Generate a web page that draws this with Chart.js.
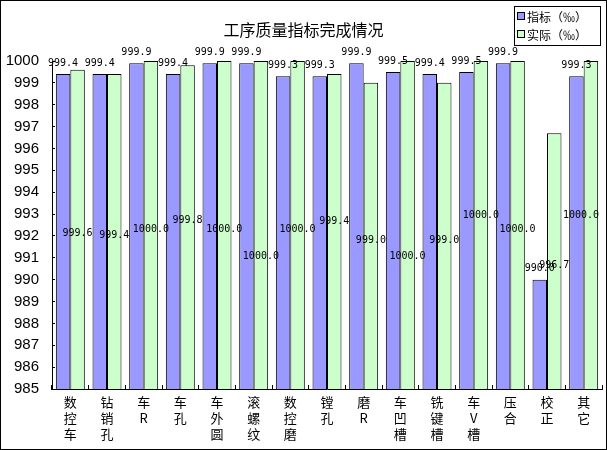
<!DOCTYPE html>
<html>
<head>
<meta charset="utf-8">
<script src="https://cdn.jsdelivr.net/npm/chart.js@4/dist/chart.umd.min.js"></script>
<style>
  html, body { margin: 0; padding: 0; background: #fff; }
  canvas { display: block; }
</style>
</head>
<body>
<canvas id="qualityChart" width="607" height="450"></canvas>
<script>
const chartTitle = "工序质量指标完成情况";
const categories = ["数控车", "钻销孔", "车R", "车孔", "车外圆", "滚螺纹", "数控磨", "镗孔", "磨R", "车凹槽", "铣键槽", "车V槽", "压合", "校正", "其它"];
const seriesNames = ["指标（‰）", "实际（‰）"];
const targetValues = [999.4, 999.4, 999.9, 999.4, 999.9, 999.9, 999.3, 999.3, 999.9, 999.5, 999.4, 999.5, 999.9, 990.0, 999.3];
const actualValues = [999.6, 999.4, 1000.0, 999.8, 1000.0, 1000.0, 1000.0, 999.4, 999.0, 1000.0, 999.0, 1000.0, 1000.0, 996.7, 1000.0];
const yMin = 985;
const yMax = 1000;

// label nudges (px) for the "actual" labels, which sit roughly mid-bar
const actualLabelShift = [0, 0, 0, -11, 0, 27, 0, -14, 0, 27, 0, -14, 0, 0, -14];

const cjk = '"Noto Sans CJK SC", sans-serif';

// white page with a thin black frame
const framePlugin = {
  id: "frame",
  beforeDraw(chart) {
    const ctx = chart.ctx;
    ctx.save();
    ctx.fillStyle = "#fff";
    ctx.fillRect(0, 0, chart.width, chart.height);
    ctx.strokeStyle = "#000";
    ctx.lineWidth = 1;
    ctx.strokeRect(0.5, 0.5, chart.width - 1, chart.height - 1);
    ctx.restore();
  }
};

// title, boxed legend and value labels
const decorPlugin = {
  id: "decor",
  afterDatasetsDraw(chart) {
    const ctx = chart.ctx;
    const yScale = chart.scales.y;
    const right = chart.chartArea.right;
    ctx.save();

    ctx.fillStyle = "#000";
    ctx.font = "16px " + cjk;
    ctx.textAlign = "center";
    ctx.textBaseline = "middle";
    ctx.fillText(chartTitle, chart.width / 2, 30);

    // legend
    ctx.strokeStyle = "#000";
    ctx.lineWidth = 1;
    ctx.strokeRect(514.5, 6.5, 86, 39);
    ctx.font = "12px " + cjk;
    ctx.textAlign = "left";
    chart.data.datasets.forEach((ds, i) => {
      const y = 16 + i * 18;
      ctx.fillStyle = ds.backgroundColor;
      ctx.fillRect(517.5, y - 3.5, 7, 7);
      ctx.strokeRect(517.5, y - 3.5, 7, 7);
      ctx.fillStyle = "#000";
      ctx.fillText(ds.label, 527, y + 1);
    });

    // value labels
    ctx.font = "10px 'DejaVu Sans Mono', monospace";
    ctx.textAlign = "center";
    ctx.textBaseline = "middle";
    ctx.fillStyle = "#000";
    const basePx = yScale.getPixelForValue(yMin);
    const put = (txt, x, y) => {
      const w = ctx.measureText(txt).width;
      ctx.fillText(txt, Math.min(x, right - w / 2 - 3), y);
    };
    chart.getDatasetMeta(0).data.forEach((bar, i) => {
      const top = yScale.getPixelForValue(targetValues[i]);
      put(targetValues[i].toFixed(1), bar.x, top - 11);
    });
    chart.getDatasetMeta(1).data.forEach((bar, i) => {
      const top = yScale.getPixelForValue(actualValues[i]);
      const mid = (top + basePx) / 2 + 4 + actualLabelShift[i];
      put(actualValues[i].toFixed(1), bar.x, mid);
    });

    ctx.restore();
  }
};

new Chart(document.getElementById("qualityChart"), {
  type: "bar",
  data: {
    labels: categories.map(c => c.split("")),
    datasets: [
      {
        label: seriesNames[0],
        data: targetValues,
        backgroundColor: "#9999FF",
        borderColor: "#000",
        borderWidth: 1,
        borderSkipped: false
      },
      {
        label: seriesNames[1],
        data: actualValues,
        backgroundColor: "#CCFFCC",
        borderColor: "#000",
        borderWidth: 1,
        borderSkipped: false
      }
    ]
  },
  options: {
    responsive: false,
    devicePixelRatio: 1,
    animation: false,
    layout: { padding: { top: 61, right: 5, left: 0, bottom: 0 } },
    datasets: { bar: { categoryPercentage: 0.79, barPercentage: 1.0 } },
    plugins: {
      legend: { display: false },
      title: { display: false },
      tooltip: { enabled: false }
    },
    scales: {
      x: {
        afterFit(scale) { scale.height = 61; },
        grid: {
          display: true,
          offset: true,
          drawOnChartArea: false,
          tickLength: -4,
          color: "#000"
        },
        border: { color: "#000", width: 1 },
        ticks: {
          color: "#000",
          padding: 9,
          maxRotation: 0,
          autoSkip: false,
          font: { family: cjk, size: 13, lineHeight: 1.23 }
        }
      },
      y: {
        min: yMin,
        max: yMax,
        afterFit(scale) { scale.width = 52; },
        grid: {
          display: true,
          drawOnChartArea: false,
          tickLength: -3,
          color: "#000"
        },
        border: { color: "#000", width: 1 },
        ticks: {
          stepSize: 1,
          color: "#000",
          padding: 16,
          font: { family: "'Liberation Sans', sans-serif", size: 15 },
          callback: v => String(v)
        }
      }
    }
  },
  plugins: [framePlugin, decorPlugin]
});
</script>
</body>
</html>
